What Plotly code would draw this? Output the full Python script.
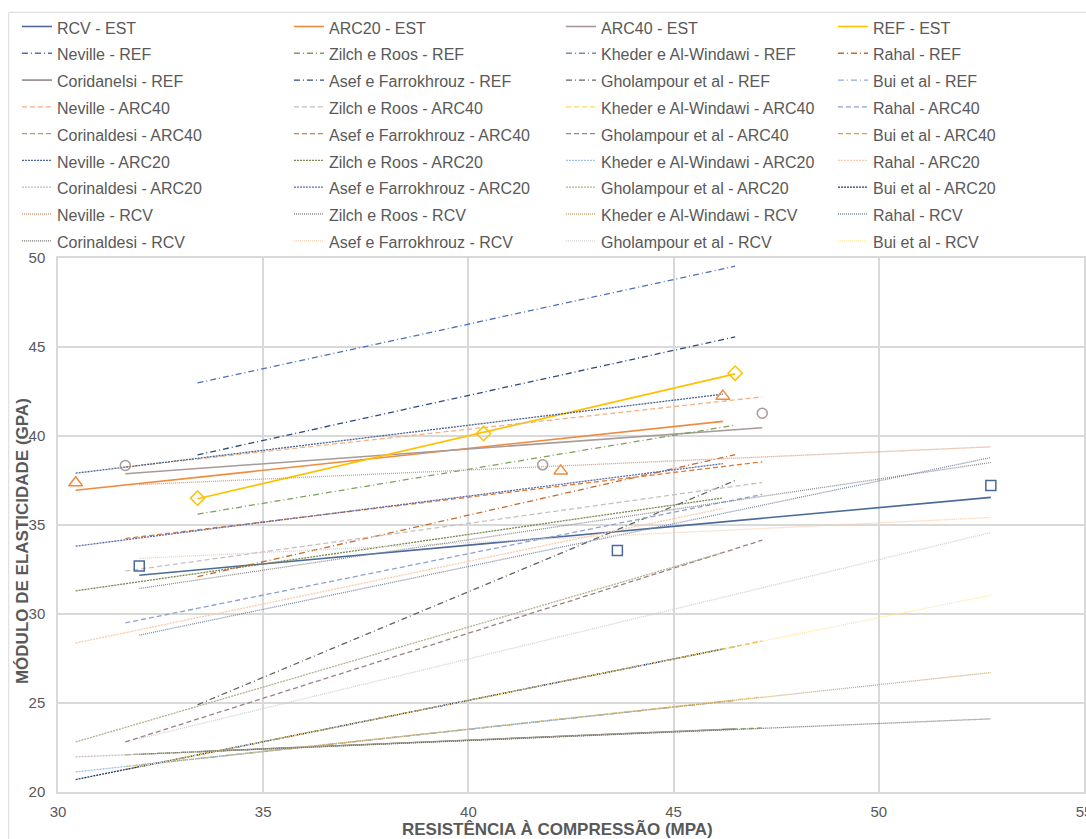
import plotly.graph_objects as go

# Compressive strength (MPa) at the ends of each mix's test range
fc_ref = [33.40, 46.50]
fc_arc40 = [31.64, 47.16]
fc_arc20 = [30.43, 46.20]
fc_rcv = [31.98, 52.73]

# Measured points (EST): compressive strength (MPa) and modulus (GPa)
est_fc_rcv = [31.98, 43.63, 52.73]
est_e_rcv = [32.70, 33.57, 37.22]
est_fc_arc20 = [30.43, 42.25, 46.20]
est_e_arc20 = [37.37, 38.04, 42.24]
est_fc_arc40 = [31.64, 41.81, 47.16]
est_e_arc40 = [38.34, 38.38, 41.28]
est_fc_ref = [33.40, 40.37, 46.50]
est_e_ref = [36.51, 40.14, 43.53]

# Linear trend of the measured points, at the ends of each range
trend_rcv = [32.18, 36.55]
trend_arc20 = [36.95, 40.82]
trend_arc40 = [37.88, 40.46]
trend_ref = [36.48, 43.49]

# Model estimates (GPa) at the range ends, mix order: REF, ARC40, ARC20, RCV
e_neville = [[42.98, 49.54], [38.26, 42.20], [37.91, 42.35], [37.27, 39.39]]
e_zilch = [[35.61, 40.61], [32.41, 37.39], [31.30, 36.52], [31.43, 38.51]]
e_kheder = [[21.87, 25.15], [21.43, 25.35], [21.13, 25.07], [21.52, 26.71]]
e_rahal = [[32.10, 38.95], [29.50, 36.72], [28.37, 35.93], [28.81, 38.79]]
e_corinaldesi = [[22.27, 23.55], [22.09, 23.60], [21.97, 23.50], [22.12, 24.11]]
e_asef = [[38.94, 45.57], [34.24, 38.55], [33.81, 38.45], [33.12, 35.42]]
e_gholampour = [[24.90, 37.50], [22.81, 34.15], [22.81, 33.45], [23.00, 34.58]]
e_bui = [[22.08, 28.17], [21.26, 28.48], [20.70, 28.03], [21.42, 31.06]]

mixes = ["REF", "ARC40", "ARC20", "RCV"]
mix_fc = [fc_ref, fc_arc40, fc_arc20, fc_rcv]
model_names = ["Neville", "Zilch e Roos", "Kheder e Al-Windawi", "Rahal",
               "Corinaldesi", "Asef e Farrokhrouz", "Gholampour et al", "Bui et al"]
ref_model_names = ["Neville", "Zilch e Roos", "Kheder e Al-Windawi", "Rahal",
                   "Coridanelsi", "Asef e Farrokhrouz", "Gholampour et al", "Bui et al"]
model_values = [e_neville, e_zilch, e_kheder, e_rahal,
                e_corinaldesi, e_asef, e_gholampour, e_bui]

# Line style per mix and colour per (model, mix)
mix_dash = {"REF": "6px,3px,1px,3px", "ARC40": "5px,3px",
            "ARC20": "2px,1px", "RCV": "1px,1px"}
model_colors = [
    ["#4f72b0", "#f4b183", "#4a6592", "#d49a78"],   # Neville
    ["#7ba05b", "#c8c0c0", "#7a8650", "#8c8c8c"],   # Zilch e Roos
    ["#6f8fb8", "#ffd966", "#9dc3e6", "#c9a66b"],   # Kheder e Al-Windawi
    ["#c46a2e", "#8ea0cc", "#f8cbad", "#7c8aa6"],   # Rahal
    ["#7b6b6b", "#8bae6a", "#c9b9b9", "#6e6e6e"],   # Corinaldesi
    ["#2e4a7a", "#e07b30", "#5b6bae", "#f8cba8"],   # Asef e Farrokhrouz
    ["#5e665e", "#9c8282", "#b3b08c", "#cfcfcf"],   # Gholampour et al
    ["#8faadc", "#e6a118", "#203864", "#ffe699"],   # Bui et al
]

TEXT = "#595959"
GRID = "#d9d9d9"
FONT = "Liberation Sans, Arial, sans-serif"


def lname(s):
    return '<span style="font-size:16px">' + s + "</span>"


fig = go.Figure()

# Trend lines of the measured series (legend row 1)
est_series = [
    ("RCV - EST", fc_rcv, trend_rcv, "#4a6a9a"),
    ("ARC20 - EST", fc_arc20, trend_arc20, "#f08a3c"),
    ("ARC40 - EST", fc_arc40, trend_arc40, "#a89a98"),
    ("REF - EST", fc_ref, trend_ref, "#ffc000"),
]
for name, xs, ys, col in est_series:
    fig.add_trace(go.Scatter(x=xs, y=ys, mode="lines", name=lname(name),
                             line=dict(color=col, width=1.6)))

# Model curves, grouped by mix
for mi, mix in enumerate(mixes):
    names = ref_model_names if mix == "REF" else model_names
    for k, vals in enumerate(model_values):
        solid = (mix == "REF" and k == 4)
        fig.add_trace(go.Scatter(
            x=mix_fc[mi], y=vals[mi], mode="lines",
            name=lname(f"{names[k]} - {mix}"),
            line=dict(color=model_colors[k][mi], width=1.3,
                      dash="solid" if solid else mix_dash[mix])))

# Measured points
est_points = [
    (est_fc_rcv, est_e_rcv, "square-open", "#4a6a9a", 10),
    (est_fc_arc20, est_e_arc20, "triangle-up-open", "#f08a3c", 12),
    (est_fc_arc40, est_e_arc40, "circle-open", "#a89a98", 10),
    (est_fc_ref, est_e_ref, "diamond-open", "#ffc000", 11),
]
for xs, ys, sym, col, sz in est_points:
    fig.add_trace(go.Scatter(x=xs, y=ys, mode="markers", showlegend=False,
                             marker=dict(symbol=sym, size=sz, color=col,
                                         line=dict(color=col, width=1.5))))

axis_common = dict(showgrid=True, gridcolor=GRID, gridwidth=1.5,
                   showline=True, linecolor=GRID, linewidth=1.5, mirror=True,
                   zeroline=False, ticks="",
                   tickfont=dict(family=FONT, size=15, color=TEXT))

fig.update_layout(
    width=1086, height=839,
    margin=dict(l=58, r=2, t=258, b=47, autoexpand=False),
    paper_bgcolor="white", plot_bgcolor="white",
    font=dict(family=FONT, color=TEXT),
    xaxis=dict(range=[30, 55], dtick=5, tick0=30, ticklabelstandoff=5,
               ticklabeloverflow="allow", **axis_common),
    yaxis=dict(range=[20, 50], dtick=5, tick0=20, ticklabelstandoff=8,
               **axis_common),
    legend=dict(orientation="h", x=-0.04, xanchor="left", y=1.468,
                yanchor="top", entrywidth=227, entrywidthmode="pixels",
                font=dict(family=FONT, size=18.3, color=TEXT),
                bgcolor="rgba(0,0,0,0)", borderwidth=0),
    showlegend=True,
)

fig.add_annotation(text="<b>RESISTÊNCIA À COMPRESSÃO (MPA)</b>",
                   xref="paper", yref="paper", x=0.487, y=-0.0685,
                   xanchor="center", yanchor="middle", showarrow=False,
                   font=dict(family=FONT, size=17, color=TEXT))
fig.add_annotation(text="<b>MÓDULO DE ELASTICIDADE (GPA)</b>",
                   xref="paper", yref="paper", x=-0.0346, y=0.469,
                   xanchor="center", yanchor="middle", textangle=-90,
                   showarrow=False, font=dict(family=FONT, size=17, color=TEXT))

# Chart-area border
fig.add_shape(type="rect", xref="paper", yref="paper",
              x0=-0.048, x1=1.01, y0=-0.2, y1=1.460,
              line=dict(color=GRID, width=1), layer="below")

fig.write_html("out.html")
